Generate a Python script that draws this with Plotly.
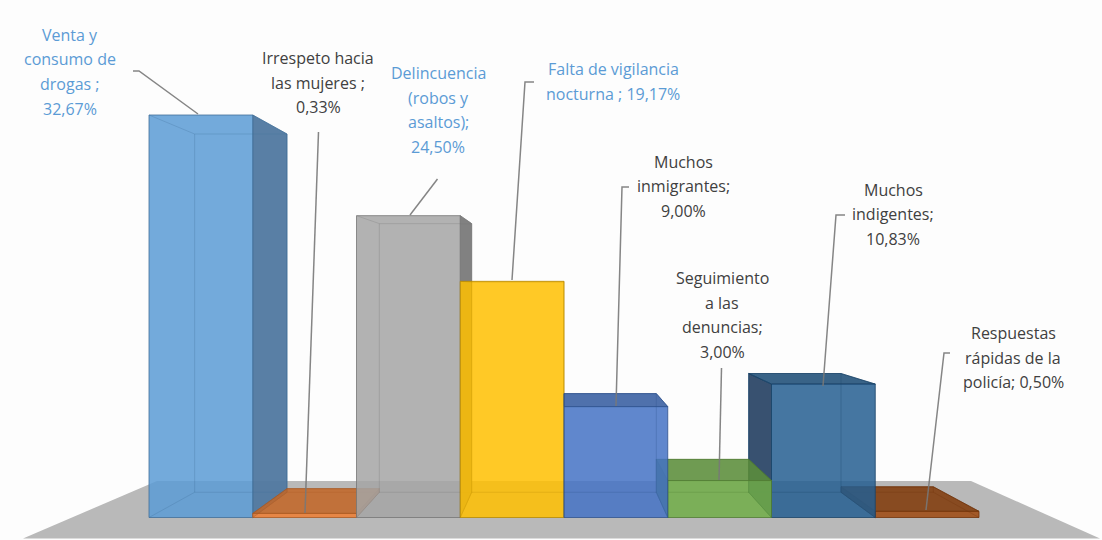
import plotly.graph_objects as go

categories = ["Venta y consumo de drogas", "Irrespeto hacia las mujeres",
              "Delincuencia (robos y asaltos)", "Falta de vigilancia nocturna",
              "Muchos inmigrantes", "Seguimiento a las denuncias",
              "Muchos indigentes", "Respuestas rápidas de la policía"]
values = [32.67, 0.33, 24.50, 19.17, 9.00, 3.00, 10.83, 0.50]
colors = [(91, 155, 213), (237, 125, 49), (165, 165, 165), (255, 192, 0),
          (68, 114, 196), (112, 173, 71), (37, 94, 145), (158, 72, 14)]
side_colors = [(80, 120, 160), (180, 95, 40), (122, 122, 122), (200, 150, 0),
               (50, 85, 150), (80, 130, 52), (45, 72, 104), (110, 55, 15)]
label_lines = [["Venta y", "consumo de", "drogas ;", "32,67%"],
               ["Irrespeto hacia", "las mujeres ;", "0,33%"],
               ["Delincuencia", "(robos y", "asaltos);", "24,50%"],
               ["Falta de vigilancia", "nocturna ; 19,17%"],
               ["Muchos", "inmigrantes;", "9,00%"],
               ["Seguimiento", "a las", "denuncias;", "3,00%"],
               ["Muchos", "indigentes;", "10,83%"],
               ["Respuestas", "rápidas de la", "policía; 0,50%"]]
label_colors = ["#5B9BD5", "#404040", "#5B9BD5", "#5B9BD5", "#404040", "#404040", "#404040", "#404040"]

# page layout, pixels
W, H = 1102, 540
X0, BW = 149.0, 103.75
Y0, UH = 517.5, 12.32
label_x = [70, 318, 438, 613, 683, 722, 893, 1013]
label_y = [35, 58, 73, 69, 162, 278, 190, 333]
line_step = 24.5
leaders = [[(133, 71), (139, 71), (198, 114)],
           [(318.5, 132), (305, 513)],
           [(437.5, 179), (410, 215)],
           [(534, 82), (525, 82), (512, 280)],
           [(629, 187), (622, 187), (616, 406)],
           [(721.5, 368), (719, 480)],
           [(845, 215), (836, 215), (823, 386)],
           [(950, 353), (944, 353), (926, 510)]]
floor_px = [(157, 481), (971, 481), (1100, 538.5), (23, 538.5)]

# perspective of the chart box, data units
K = 0.89
VX = (564 - X0) / BW
VY = (Y0 - 288) / UH


def back(x, y):
    return VX + K * (x - VX), VY + K * (y - VY)


def rgba(c, f=1.0, a=1.0):
    return f"rgba({int(c[0]*f)},{int(c[1]*f)},{int(c[2]*f)},{a})"


def face(fig, pts, fill, edge, lw=1.0):
    xs = [p[0] for p in pts] + [pts[0][0]]
    ys = [p[1] for p in pts] + [pts[0][1]]
    fig.add_trace(go.Scatter(x=xs, y=ys, mode="lines", fill="toself", fillcolor=fill,
                             line=dict(color=edge, width=lw),
                             hoverinfo="skip", showlegend=False))


fig = go.Figure()
order = [0, 1, 2, 3, 7, 6, 5, 4]
for i in order:
    v, c, s = values[i], colors[i], side_colors[i]
    xl, xr = float(i), float(i + 1)
    edge = rgba(c, 0.72, 0.8)
    bl0, b0 = back(xl, 0)
    br0, _ = back(xr, 0)
    blt, bt = back(xl, v)
    brt, _ = back(xr, v)
    if blt < xl:
        face(fig, [(xl, 0), (xl, v), (blt, bt), (bl0, b0)], rgba(s, 1, 0.95), edge)
    if brt > xr:
        face(fig, [(xr, 0), (xr, v), (brt, bt), (br0, b0)], rgba(s, 1, 0.95), edge)
    if bt > v:
        face(fig, [(xl, v), (xr, v), (brt, bt), (blt, bt)], rgba(c, 0.82, 0.88), edge)
    # front face
    face(fig, [(xl, 0), (xr, 0), (xr, v), (xl, v)], rgba(c, 1.0, 0.85), edge)
    # inner edges seen through the front
    fig.add_trace(go.Scatter(x=[bl0, blt, brt, br0, bl0, None, xl, blt, None, xr, brt, None, xl, bl0, None, xr, br0],
                             y=[b0, bt, bt, b0, b0, None, v, bt, None, v, bt, None, 0, b0, None, 0, b0],
                             mode="lines", line=dict(color=rgba(c, 0.72, 0.28), width=1),
                             hoverinfo="skip", showlegend=False))

shapes = [dict(type="path", xref="paper", yref="paper", layer="below",
               path="M " + " L ".join(f"{x/W} {1-y/H}" for x, y in floor_px) + " Z",
               fillcolor="#B9B9B9", line=dict(width=0))]
for path in leaders:
    shapes.append(dict(type="path", xref="paper", yref="paper", layer="above",
                       path="M " + " L ".join(f"{x/W} {1-y/H}" for x, y in path),
                       line=dict(color="rgba(120,120,120,0.9)", width=1.5)))

annotations = []
for lines, lx, ly, col in zip(label_lines, label_x, label_y, label_colors):
    for j, t in enumerate(lines):
        annotations.append(dict(text=t, xref="paper", yref="paper", x=lx / W, y=1 - (ly + j * line_step) / H,
                                xanchor="center", yanchor="middle", showarrow=False,
                                font=dict(family="Open Sans", size=16, color=col)))

fig.update_layout(width=W, height=H, margin=dict(l=0, r=0, t=0, b=0),
                  paper_bgcolor="#FDFDFD", plot_bgcolor="rgba(0,0,0,0)", showlegend=False,
                  shapes=shapes, annotations=annotations,
                  xaxis=dict(visible=False, range=[-X0 / BW, (W - X0) / BW], fixedrange=True),
                  yaxis=dict(visible=False, range=[(Y0 - H) / UH, Y0 / UH], fixedrange=True))
fig.write_html("out.html", config={"displayModeBar": False},
               post_script="document.body.style.margin='0';document.body.style.overflow='hidden';")
